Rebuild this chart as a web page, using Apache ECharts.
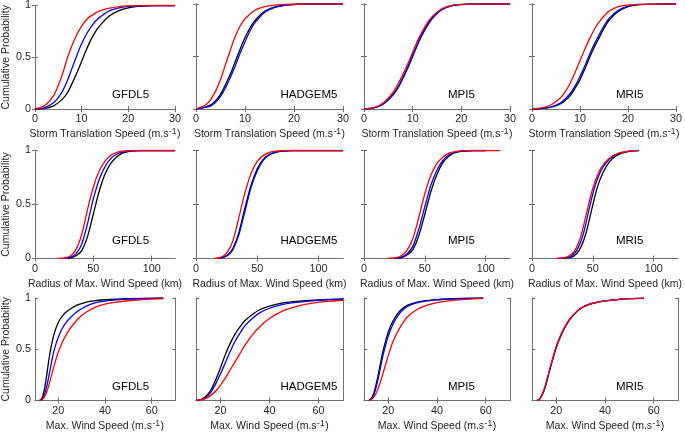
<!DOCTYPE html>
<html><head><meta charset="utf-8">
<script src="https://cdn.jsdelivr.net/npm/echarts@6/dist/echarts.min.js"></script>
<style>html,body{margin:0;padding:0;background:#fff}#c{width:685px;height:434px}</style>
</head><body><div id="c"></div>
<script>
// ---------- data ----------
const models = ['GFDL5', 'HADGEM5', 'MPI5', 'MRI5'];
const yTicks = [0, 0.5, 1];
const xTicksTrans = [0, 10, 20, 30];
const xTicksRadius = [0, 50, 100];
const xTicksWind = [20, 40, 60];

// Row 1: Storm translation speed CDFs
const tr_GFDL5_black = [[0,0],[2,0.005],[4,0.03],[6,0.1],[7,0.16],[8,0.25],[9,0.35],[10,0.46],[11,0.57],[12,0.67],[13,0.75],[14,0.81],[16,0.9],[18,0.95],[20,0.978],[22,0.991],[24,0.997],[26,1],[30,1]];
const tr_GFDL5_blue  = [[0,0],[2,0.01],[4,0.06],[5,0.11],[6,0.18],[7,0.28],[8,0.4],[9,0.52],[10,0.63],[11,0.72],[12,0.79],[13,0.85],[14,0.89],[16,0.95],[18,0.978],[20,0.991],[22,0.997],[24,1],[30,1]];
const tr_GFDL5_red   = [[0,0],[2,0.03],[4,0.13],[5,0.23],[6,0.35],[7,0.5],[8,0.62],[9,0.72],[10,0.8],[11,0.86],[12,0.9],[14,0.95],[16,0.975],[18,0.99],[20,0.996],[22,0.999],[24,1],[30,1]];
const tr_HADGEM5_black = [[0,0],[2,0.02],[3,0.04],[4,0.08],[5,0.14],[6,0.23],[7,0.33],[8,0.45],[9,0.57],[10,0.68],[11,0.77],[12,0.84],[14,0.93],[16,0.97],[18,0.988],[20,0.996],[22,1],[30,1]];
const tr_HADGEM5_blue  = [[0,0],[2,0.015],[3,0.03],[4,0.065],[5,0.12],[6,0.2],[7,0.3],[8,0.41],[9,0.53],[10,0.64],[11,0.74],[12,0.82],[14,0.92],[16,0.965],[18,0.986],[20,0.995],[22,1],[30,1]];
const tr_HADGEM5_red   = [[0,0],[2,0.04],[3,0.09],[4,0.17],[5,0.28],[6,0.42],[7,0.56],[8,0.69],[9,0.79],[10,0.86],[12,0.94],[14,0.975],[16,0.99],[18,0.997],[20,1],[30,1]];
const tr_MPI5_black = [[0,0],[2,0.01],[4,0.05],[6,0.14],[7,0.21],[8,0.3],[9,0.4],[10,0.51],[11,0.62],[12,0.72],[13,0.8],[14,0.87],[16,0.95],[18,0.985],[20,0.996],[22,1],[30,1]];
const tr_MPI5_blue  = [[0,0],[2,0.01],[4,0.048],[6,0.135],[7,0.2],[8,0.29],[9,0.39],[10,0.5],[11,0.61],[12,0.71],[13,0.79],[14,0.86],[16,0.945],[18,0.983],[20,0.995],[22,1],[30,1]];
const tr_MPI5_red   = [[0,0],[2,0.012],[4,0.06],[6,0.16],[7,0.24],[8,0.33],[9,0.43],[10,0.54],[11,0.65],[12,0.74],[13,0.82],[14,0.88],[16,0.955],[18,0.988],[20,0.997],[22,1],[30,1]];
const tr_MRI5_black = [[0,0],[2,0.004],[4,0.017],[6,0.05],[7,0.085],[8,0.13],[9,0.2],[10,0.28],[11,0.38],[12,0.49],[13,0.59],[14,0.68],[15,0.77],[16,0.84],[18,0.93],[20,0.975],[22,0.992],[25,0.999],[27,1],[30,1]];
const tr_MRI5_blue  = [[0,0],[2,0.005],[4,0.02],[6,0.06],[7,0.1],[8,0.15],[9,0.22],[10,0.31],[11,0.41],[12,0.52],[13,0.62],[14,0.71],[15,0.79],[16,0.86],[18,0.94],[20,0.98],[22,0.994],[25,0.999],[27,1],[30,1]];
const tr_MRI5_red   = [[0,0],[2,0.01],[4,0.04],[6,0.11],[7,0.17],[8,0.25],[9,0.35],[10,0.46],[11,0.57],[12,0.67],[13,0.76],[14,0.83],[16,0.93],[18,0.975],[20,0.99],[22,0.997],[25,1],[30,1]];

// Row 2: Radius of max wind speed CDFs
const rm_GFDL5_black = [[28,0],[32,0.01],[36,0.03],[40,0.07],[45,0.2],[50,0.41],[55,0.62],[60,0.78],[65,0.88],[70,0.94],[75,0.975],[80,0.99],[85,0.997],[92,1],[120,1]];
const rm_GFDL5_blue  = [[25,0],[30,0.01],[35,0.04],[40,0.13],[45,0.32],[50,0.55],[55,0.73],[60,0.85],[65,0.925],[70,0.965],[75,0.985],[80,0.995],[88,1],[120,1]];
const rm_GFDL5_red   = [[20,0],[25,0.005],[30,0.02],[35,0.08],[40,0.22],[45,0.45],[50,0.66],[55,0.81],[60,0.9],[65,0.955],[70,0.98],[75,0.993],[82,1],[120,1]];
const rm_HADGEM5_black = [[18,0],[22,0.01],[26,0.035],[30,0.09],[35,0.24],[40,0.47],[45,0.68],[50,0.83],[55,0.92],[60,0.965],[65,0.985],[70,0.995],[78,1],[120,1]];
const rm_HADGEM5_blue  = [[18,0],[22,0.01],[26,0.03],[30,0.08],[35,0.22],[40,0.44],[45,0.66],[50,0.81],[55,0.91],[60,0.96],[65,0.983],[70,0.994],[78,1],[120,1]];
const rm_HADGEM5_red   = [[15,0],[20,0.01],[25,0.05],[30,0.16],[35,0.38],[40,0.61],[45,0.79],[50,0.9],[55,0.955],[60,0.982],[65,0.994],[72,1],[120,1]];
const rm_MPI5_black = [[26,0],[30,0.006],[35,0.03],[40,0.08],[45,0.21],[50,0.41],[55,0.62],[60,0.78],[65,0.89],[70,0.95],[75,0.98],[80,0.993],[90,1],[100,1]];
const rm_MPI5_blue  = [[24,0],[30,0.01],[35,0.04],[40,0.11],[45,0.27],[50,0.48],[55,0.68],[60,0.82],[65,0.91],[70,0.96],[75,0.985],[80,0.995],[90,1],[100,1]];
const rm_MPI5_red   = [[20,0],[25,0.005],[30,0.02],[35,0.07],[40,0.18],[45,0.38],[50,0.6],[55,0.77],[60,0.88],[65,0.94],[70,0.975],[75,0.99],[80,0.997],[90,1],[112,1]];
const rm_MRI5_black = [[24,0],[29,0.005],[34,0.02],[39,0.08],[44,0.22],[49,0.45],[54,0.67],[59,0.81],[64,0.9],[69,0.95],[74,0.975],[79,0.99],[84,0.998],[88,1]];
const rm_MRI5_blue  = [[22,0],[27,0.005],[32,0.02],[37,0.08],[42,0.22],[47,0.46],[52,0.68],[57,0.82],[62,0.9],[67,0.95],[72,0.975],[77,0.99],[82,0.997],[87,1]];
const rm_MRI5_red   = [[20,0],[25,0.005],[30,0.02],[35,0.07],[40,0.2],[45,0.43],[50,0.65],[55,0.8],[60,0.89],[65,0.94],[70,0.97],[75,0.985],[80,0.995],[87,1]];

// Row 3: Max wind speed CDFs
const ws_GFDL5_black = [[12,0],[13,0.02],[14,0.1],[15,0.24],[16,0.4],[17,0.53],[18,0.63],[19,0.705],[20,0.76],[21,0.8],[22,0.83],[23,0.855],[25,0.89],[28,0.93],[30,0.945],[33,0.965],[36,0.975],[40,0.983],[50,0.993],[65,1]];
const ws_GFDL5_blue  = [[12,0],[13,0.01],[14,0.05],[15,0.13],[16,0.24],[17,0.36],[18,0.47],[19,0.55],[20,0.615],[21,0.67],[22,0.715],[23,0.75],[25,0.805],[28,0.865],[30,0.895],[33,0.93],[36,0.955],[40,0.97],[45,0.982],[50,0.99],[60,0.997],[65,1]];
const ws_GFDL5_red   = [[12,0],[13,0.01],[14,0.03],[15,0.08],[16,0.15],[17,0.235],[18,0.32],[19,0.4],[20,0.47],[21,0.53],[22,0.58],[23,0.625],[25,0.7],[28,0.785],[30,0.83],[33,0.875],[36,0.91],[40,0.94],[45,0.96],[50,0.973],[55,0.983],[60,0.99],[65,0.995]];
const ws_HADGEM5_black = [[10,0],[12,0.01],[14,0.04],[16,0.1],[18,0.2],[20,0.32],[22,0.45],[24,0.56],[26,0.65],[28,0.72],[30,0.78],[33,0.84],[36,0.885],[40,0.92],[45,0.95],[50,0.965],[55,0.975],[60,0.982],[70,0.99]];
const ws_HADGEM5_blue  = [[10,0],[12,0.005],[14,0.03],[16,0.08],[18,0.16],[20,0.26],[22,0.37],[24,0.48],[26,0.58],[28,0.66],[30,0.73],[33,0.8],[36,0.855],[40,0.9],[45,0.935],[50,0.955],[55,0.968],[60,0.977],[70,0.99]];
const ws_HADGEM5_red   = [[10,0],[12,0.005],[14,0.02],[16,0.05],[18,0.09],[20,0.15],[22,0.22],[24,0.3],[26,0.38],[28,0.46],[30,0.54],[33,0.64],[36,0.72],[40,0.8],[45,0.87],[50,0.91],[55,0.94],[60,0.958],[65,0.97],[70,0.978]];
const ws_MPI5_black = [[12,0],[13,0.02],[14,0.07],[15,0.16],[16,0.27],[17,0.39],[18,0.5],[20,0.67],[22,0.78],[25,0.88],[28,0.93],[32,0.96],[36,0.975],[40,0.985],[50,0.995],[59,1]];
const ws_MPI5_blue  = [[12,0],[13,0.015],[14,0.05],[15,0.13],[16,0.23],[17,0.35],[18,0.46],[20,0.63],[22,0.75],[25,0.86],[28,0.92],[32,0.955],[36,0.972],[40,0.982],[50,0.994],[59,1]];
const ws_MPI5_red   = [[12,0],[13,0.01],[14,0.03],[15,0.07],[16,0.13],[17,0.2],[18,0.28],[19,0.36],[20,0.44],[22,0.58],[25,0.72],[28,0.82],[32,0.89],[36,0.93],[40,0.955],[45,0.972],[50,0.984],[55,0.992],[59,0.997]];
const ws_MRI5_black = [[12,0],[13,0.01],[14,0.045],[15,0.1],[16,0.18],[17,0.27],[18,0.36],[19,0.44],[20,0.52],[22,0.64],[24,0.735],[26,0.805],[28,0.857],[30,0.897],[33,0.932],[36,0.953],[40,0.971],[45,0.984],[50,0.993],[56,0.998]];
const ws_MRI5_blue  = [[12,0],[13,0.01],[14,0.048],[15,0.105],[16,0.185],[17,0.275],[18,0.365],[19,0.445],[20,0.525],[22,0.645],[24,0.738],[26,0.808],[28,0.859],[30,0.899],[33,0.934],[36,0.954],[40,0.972],[45,0.985],[50,0.993],[56,0.998]];
const ws_MRI5_red   = [[12,0],[13,0.01],[14,0.05],[15,0.11],[16,0.19],[17,0.28],[18,0.37],[19,0.45],[20,0.53],[22,0.65],[24,0.74],[26,0.81],[28,0.86],[30,0.9],[33,0.935],[36,0.955],[40,0.972],[45,0.985],[50,0.993],[56,0.998]];

const curves = {
  tr: {GFDL5:[tr_GFDL5_black,tr_GFDL5_blue,tr_GFDL5_red], HADGEM5:[tr_HADGEM5_black,tr_HADGEM5_blue,tr_HADGEM5_red], MPI5:[tr_MPI5_black,tr_MPI5_blue,tr_MPI5_red], MRI5:[tr_MRI5_black,tr_MRI5_blue,tr_MRI5_red]},
  rm: {GFDL5:[rm_GFDL5_black,rm_GFDL5_blue,rm_GFDL5_red], HADGEM5:[rm_HADGEM5_black,rm_HADGEM5_blue,rm_HADGEM5_red], MPI5:[rm_MPI5_black,rm_MPI5_blue,rm_MPI5_red], MRI5:[rm_MRI5_black,rm_MRI5_blue,rm_MRI5_red]},
  ws: {GFDL5:[ws_GFDL5_black,ws_GFDL5_blue,ws_GFDL5_red], HADGEM5:[ws_HADGEM5_black,ws_HADGEM5_blue,ws_HADGEM5_red], MPI5:[ws_MPI5_black,ws_MPI5_blue,ws_MPI5_red], MRI5:[ws_MRI5_black,ws_MRI5_blue,ws_MRI5_red]}
};

// ---------- layout & style ----------
const FONT = '"Liberation Sans", Arial, Helvetica, sans-serif';
const TXT = '#262626';
const FRAME = '#6f6f6f';
const lineColors = ['#000000', '#0000ff', '#ff0000'];
const colLeft = [27, 196, 364, 532];
const colWidth = [148, 147, 146, 146];
const rowTop = [4, 150.5, 298];
const rowHeight = [105, 108, 105];
const labelCenterY = [96, 241.5, 388];
const rows = [
  {key:'tr', min:0, max:30, ticks:xTicksTrans, name:'{t|Storm Translation Speed (m.s}{s|-1}{t|)}'},
  {key:'rm', min:0, max:120, ticks:xTicksRadius, name:'{t|Radius of Max. Wind Speed (km)}'},
  {key:'ws', min:10, max:70, ticks:xTicksWind, name:'{t|Max. Wind Speed (m.s}{s|-1}{t|)}'}
];

const grid = [], xAxis = [], yAxis = [], series = [], graphic = [];
const rich = {
  t: {fontSize: 10.5, fontFamily: FONT, color: TXT, lineHeight: 14},
  s: {fontSize: 8.5, fontFamily: FONT, color: TXT, verticalAlign: 'top', lineHeight: 14, padding: [0, 0.5, 5, 0.5]}
};
rows.forEach((r, i) => {
  models.forEach((m, j) => {
    const g = grid.length;
    grid.push({left: colLeft[j], top: rowTop[i], width: colWidth[j], height: rowHeight[i], show: false, containLabel: false});
    const axLine = {show: true, lineStyle: {color: FRAME, width: 1}};
    xAxis.push({
      type: 'value', gridIndex: g, min: r.min, max: r.max, position: 'bottom',
      axisLine: axLine, splitLine: {show: false},
      axisTick: {show: true, inside: true, length: 3, lineStyle: {color: FRAME}, customValues: r.ticks},
      axisLabel: {show: true, margin: 5, fontSize: 10.8, fontFamily: FONT, color: TXT, customValues: r.ticks},
      name: r.name, nameLocation: 'middle', nameGap: 18.5,
      nameTextStyle: {rich: rich}
    });
    xAxis.push({
      type: 'value', gridIndex: g, min: r.min, max: r.max, position: 'top',
      axisLine: axLine, splitLine: {show: false},
      axisTick: {show: true, inside: true, length: 3, lineStyle: {color: FRAME}, customValues: r.ticks},
      axisLabel: {show: false}
    });
    yAxis.push({
      type: 'value', gridIndex: g, min: 0, max: 1, position: 'left',
      axisLine: axLine, splitLine: {show: false},
      axisTick: {show: true, inside: true, length: 3, lineStyle: {color: FRAME}, customValues: yTicks},
      axisLabel: {show: j === 0, margin: 4, fontSize: 10.8, fontFamily: FONT, color: TXT, customValues: yTicks},
      name: j === 0 ? 'Cumulative Probability' : '', nameLocation: 'middle', nameGap: 16,
      nameTextStyle: {fontSize: 10.5, fontFamily: FONT, color: TXT}
    });
    yAxis.push({
      type: 'value', gridIndex: g, min: 0, max: 1, position: 'right',
      axisLine: axLine, splitLine: {show: false},
      axisTick: {show: true, inside: true, length: 3, lineStyle: {color: FRAME}, customValues: yTicks},
      axisLabel: {show: false}
    });
    curves[r.key][m].forEach((d, c) => {
      series.push({
        type: 'line', xAxisIndex: 2 * g, yAxisIndex: 2 * g, data: d,
        showSymbol: false, smooth: 0.3, silent: true,
        lineStyle: {color: lineColors[c], width: 1.3}, z: 2 + c
      });
    });
    graphic.push({
      type: 'text',
      left: colLeft[j] + colWidth[j] * 0.575,
      top: labelCenterY[i] - 7,
      style: {text: m, fontSize: 11.5, fontFamily: FONT, fill: '#000'}
    });
  });
});

const chart = echarts.init(document.getElementById('c'), null, {renderer: 'canvas'});
chart.setOption({animation: false, backgroundColor: '#fff', grid, xAxis, yAxis, series, graphic});
</script>
</body></html>
